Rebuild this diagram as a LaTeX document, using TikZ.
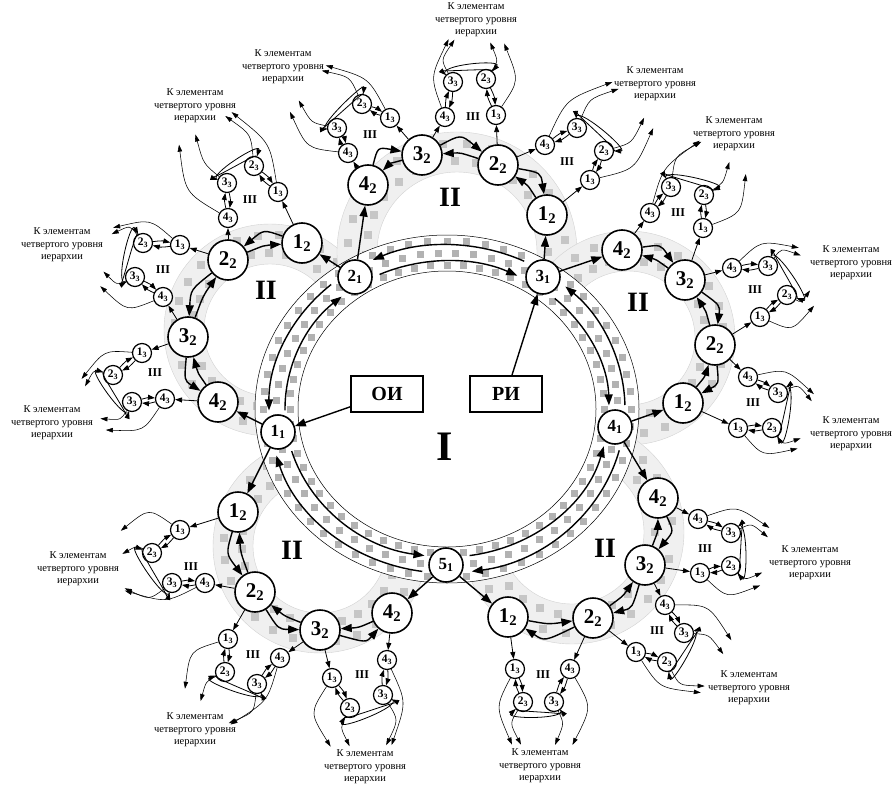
\documentclass[tikz,border=0pt]{standalone}
\usepackage{fontspec}
\setmainfont{Liberation Serif}
\usetikzlibrary{calc,arrows.meta}
\newcommand\nd[2]{#1\textsubscript{#2}}
% elliptic ring arc: start, end, x radius, y radius
\newcommand\rarc[4]{\draw[aone] ($(C0)+({#3*cos(#1)},{#4*sin(#1)})$) arc[start angle=#1, end angle=#2, x radius=#3pt, y radius=#4pt];}
\newcommand\petal[2]{%
  \pgfmathsetmacro\po{#2+20}\pgfmathsetmacro\pin{#2-20}%
  \fill[bandfill, even odd rule] (#1) circle[radius=\po pt] (#1) circle[radius=\pin pt];
  \draw[bandline] (#1) circle[radius=\po pt] (#1) circle[radius=\pin pt];
  \foreach \a in {0,13,...,350}{
    \pgfmathsetmacro\ra{#2-9}\pgfmathsetmacro\rb{#2+9}\pgfmathsetmacro\b{\a+6.5}
    \fill[psq] ($(#1)+(\a:\ra pt)$) ++(-4pt,-4pt) rectangle ++(8pt,8pt);
    \fill[psq] ($(#1)+(\b:\rb pt)$) ++(-4pt,-4pt) rectangle ++(8pt,8pt);
  }
}
\newcommand\dbl[3]{%
  \coordinate (dm) at ($(#1)!0.5!(#2)$);
  \draw[aone] (#1) .. controls ($(#3)!1.28!(dm)$) .. (#2);
  \draw[aone] (#2) .. controls ($(#3)!1.08!(dm)$) .. (#1);
}
\newcommand\clust[8]{%
  \node[lthree] (#11) at #2 {\nd{1}{3}};
  \node[lthree] (#12) at #3 {\nd{2}{3}};
  \node[lthree] (#13) at #4 {\nd{3}{3}};
  \node[lthree] (#14) at #5 {\nd{4}{3}};
  \node[romanthree] (#1r) at #8 {III};
  \coordinate (#1C) at ($0.25*(#11)+0.25*(#12)+0.25*(#13)+0.25*(#14)$);
  \draw[athree] (#6) -- (#11);
  \draw[athree] (#7) -- (#14);
  \draw[athree] (#11) to[bend left=11] (#12);
  \draw[athree] (#12) to[bend left=11] (#11);
  \draw[athree] (#13) to[bend left=11] (#14);
  \draw[athree] (#14) to[bend left=11] (#13);
  \draw[athree] (#12) .. controls ($(#12)!-0.6!(#1C)$) and ($(#13)!-0.6!(#1C)$) .. (#13);
  \draw[athree] (#13) .. controls ($(#13)!-1.05!(#1C)$) and ($(#12)!-1.05!(#1C)$) .. (#12);
}
\newcommand\tolab[2]{%
  \node[lbl] (#1L) at #2 {К элементам\\четвертого уровня\\иерархии};
  \path (#1C) -- (#1L) coordinate[pos=1] (#1B);
  \coordinate (#1G) at ($(#1B)!3pt!(#1C)$);
  \foreach \k in {1,2,3,4}{
    \coordinate (#1F\k) at ($(#1L)!(#1\k)!(#1C)$);
    \coordinate (#1T\k) at ($(#1G)+1.1*(#1\k)-1.1*(#1F\k)$);
    \coordinate (#1K\k) at ($(#1\k)!0.5!(#1T\k)+0.7*(#1\k)-0.7*(#1F\k)$);
    \draw[afour] (#1\k) .. controls (#1K\k) .. (#1T\k);
  }
}
\begin{document}
\begin{tikzpicture}[x=1pt,y=1pt,
  lone/.style={circle, draw, line width=1.6pt, fill=white, minimum size=34pt, inner sep=0pt, font=\fontsize{17}{17}\selectfont\bfseries},
  ltwo/.style={circle, draw, line width=1.6pt, fill=white, minimum size=40pt, inner sep=0pt, font=\fontsize{21}{21}\selectfont\bfseries},
  lthree/.style={circle, draw, line width=1.2pt, fill=white, minimum size=19pt, inner sep=0pt, font=\fontsize{11.5}{11.5}\selectfont\bfseries},
  romanthree/.style={font=\fontsize{12}{12}\selectfont\bfseries},
  romantwo/.style={font=\fontsize{28}{28}\selectfont\bfseries},
  boxnode/.style={draw, line width=1.5pt, fill=white, minimum width=72pt, minimum height=36pt, font=\fontsize{20}{20}\selectfont\bfseries},
  aone/.style={line width=1.4pt, -{Triangle[length=11pt,width=8pt]}},
  athree/.style={line width=0.8pt, -{Triangle[length=7pt,width=5pt]}},
  afour/.style={line width=0.55pt, -{Triangle[length=7pt,width=4.5pt]}},
  lbl/.style={align=center, font=\fontsize{10.5}{12.5}\selectfont, inner sep=1pt},
  bandfill/.style={fill=gray!12},
  bandline/.style={draw=gray!35, line width=0.4pt},
  psq/.style={fill=gray!45},
  rsq/.style={fill=gray!60}]
\useasboundingbox (0,0) rectangle (896,-789);
\coordinate (C0) at (447,-409);
\coordinate (pUL) at (270,-330);
\coordinate (pT) at (457,-252);
\coordinate (pR) at (628,-338);
\coordinate (pLR) at (572,-532);
\coordinate (pLL) at (320,-546);
\petal{pUL}{86}
\petal{pT}{100}
\petal{pR}{87}
\petal{pLR}{92}
\petal{pLL}{87}
% ring I (ellipse band)
\fill[white] (C0) ellipse[x radius=192pt, y radius=174pt];
\draw[line width=0.5pt] (C0) ellipse[x radius=192pt, y radius=174pt];
\draw[line width=0.5pt] (C0) ellipse[x radius=149pt, y radius=138pt];
\foreach \a in {0,6,...,355}{
  \pgfmathsetmacro\b{\a+3}
  \fill[rsq] ($(C0)+({157*cos(\a)},{144*sin(\a)})$) ++(-3.5pt,-3.5pt) rectangle ++(7pt,7pt);
  \fill[rsq] ($(C0)+({170.5*cos(\b)},{156*sin(\b)})$) ++(-3.5pt,-3.5pt) rectangle ++(7pt,7pt);
  \fill[rsq] ($(C0)+({184*cos(\a)},{168*sin(\a)})$) ++(-3.5pt,-3.5pt) rectangle ++(7pt,7pt);
}
\node[font=\fontsize{42}{42}\selectfont\bfseries] (bigI) at (445,-447) {I};
\node[romantwo] (iiUL) at (266,-290) {II};
\node[romantwo] (iiT) at (450,-197) {II};
\node[romantwo] (iiR) at (638,-302) {II};
\node[romantwo] (iiLR) at (605,-548) {II};
\node[romantwo] (iiLL) at (292,-550) {II};
% ring arcs (inner x162/y148, outer x178/y164)
\rarc{180.5}{130.6}{162}{148} \rarc{130.6}{180.5}{178}{164}
\rarc{114.6}{64.3}{162}{148} \rarc{64.3}{114.6}{178}{164}
\rarc{48.3}{1.4}{162}{148} \rarc{1.4}{48.3}{178}{164}
\rarc{-82}{-14.6}{162}{148} \rarc{-14.6}{-82}{178}{164}
\rarc{196.5}{262}{162}{148} \rarc{262}{196.5}{178}{164}
% level 1
\node[lone] (n11) at (278,-432) {\nd{1}{1}};
\node[lone] (n21) at (355,-277) {\nd{2}{1}};
\node[lone] (n31) at (543,-277) {\nd{3}{1}};
\node[lone] (n41) at (615,-427) {\nd{4}{1}};
\node[lone] (n51) at (446,-565) {\nd{5}{1}};
\node[boxnode] (oi) at (387,-394) {ОИ};
\node[boxnode] (ri) at (506,-394) {РИ};
\draw[aone] (oi) -- (n11);
\draw[aone] (ri) -- (n31);
% level 2
\node[ltwo] (ul1) at (302,-243) {\nd{1}{2}};
\node[ltwo] (ul2) at (228,-260) {\nd{2}{2}};
\node[ltwo] (ul3) at (188,-337) {\nd{3}{2}};
\node[ltwo] (ul4) at (218,-402) {\nd{4}{2}};
\node[ltwo] (t4) at (368,-185) {\nd{4}{2}};
\node[ltwo] (t3) at (422,-155) {\nd{3}{2}};
\node[ltwo] (t2) at (498,-165) {\nd{2}{2}};
\node[ltwo] (t1) at (547,-215) {\nd{1}{2}};
\node[ltwo] (r4) at (622,-250) {\nd{4}{2}};
\node[ltwo] (r3) at (685,-280) {\nd{3}{2}};
\node[ltwo] (r2) at (715,-345) {\nd{2}{2}};
\node[ltwo] (r1) at (683,-403) {\nd{1}{2}};
\node[ltwo] (lr4) at (658,-498) {\nd{4}{2}};
\node[ltwo] (lr3) at (645,-565) {\nd{3}{2}};
\node[ltwo] (lr2) at (593,-618) {\nd{2}{2}};
\node[ltwo] (lr1) at (508,-617) {\nd{1}{2}};
\node[ltwo] (ll1) at (238,-512) {\nd{1}{2}};
\node[ltwo] (ll2) at (255,-592) {\nd{2}{2}};
\node[ltwo] (ll3) at (320,-630) {\nd{3}{2}};
\node[ltwo] (ll4) at (392,-613) {\nd{4}{2}};
% ring I -> petals
\draw[aone] (n11) -- (ul4); \draw[aone] (n11) -- (ll1);
\draw[aone] (n21) -- (ul1); \draw[aone] (n21) -- (t4);
\draw[aone] (n31) -- (t1); \draw[aone] (n31) -- (r4);
\draw[aone] (n41) -- (r1); \draw[aone] (n41) -- (lr4);
\draw[aone] (n51) -- (lr1); \draw[aone] (n51) -- (ll4);
% petal chains
\dbl{ul1}{ul2}{pUL} \dbl{ul2}{ul3}{pUL} \dbl{ul3}{ul4}{pUL}
\dbl{t4}{t3}{pT} \dbl{t3}{t2}{pT} \dbl{t2}{t1}{pT}
\dbl{r4}{r3}{pR} \dbl{r3}{r2}{pR} \dbl{r2}{r1}{pR}
\dbl{lr4}{lr3}{pLR} \dbl{lr3}{lr2}{pLR} \dbl{lr2}{lr1}{pLR}
\dbl{ll1}{ll2}{pLL} \dbl{ll2}{ll3}{pLL} \dbl{ll3}{ll4}{pLL}
% clusters
\clust{ta}{(390,-118)}{(362,-104)}{(337,-128)}{(348,-153)}{t3}{t4}{(370,-135)}
\tolab{ta}{(283,-67)}
\clust{tb}{(496,-115)}{(486,-79)}{(453,-82)}{(445,-117)}{t2}{t3}{(473,-117)}
\tolab{tb}{(476,-20)}
\clust{tc}{(590,-180)}{(604,-151)}{(577,-128)}{(545,-145)}{t1}{t2}{(567,-162)}
\tolab{tc}{(655,-84)}
\clust{ra}{(703,-228)}{(704,-195)}{(671,-187)}{(650,-213)}{r3}{r4}{(678,-213)}
\tolab{ra}{(734,-134)}
\clust{rb}{(760,-317)}{(787,-295)}{(768,-266)}{(732,-268)}{r2}{r3}{(755,-290)}
\tolab{rb}{(851,-263)}
\clust{rc}{(738,-428)}{(772,-428)}{(778,-393)}{(748,-377)}{r1}{r2}{(753,-403)}
\tolab{rc}{(851,-434)}
\clust{sa}{(700,-573)}{(731,-566)}{(731,-533)}{(698,-519)}{lr3}{lr4}{(705,-549)}
\tolab{sa}{(810,-563)}
\clust{sb}{(636,-652)}{(667,-662)}{(684,-633)}{(665,-605)}{lr2}{lr3}{(657,-631)}
\tolab{sb}{(749,-688)}
\clust{sc}{(515,-669)}{(523,-702)}{(554,-702)}{(570,-669)}{lr1}{lr2}{(543,-675)}
\tolab{sc}{(540,-766)}
\clust{la}{(332,-678)}{(350,-708)}{(383,-695)}{(387,-660)}{ll3}{ll4}{(362,-675)}
\tolab{la}{(365,-767)}
\clust{lb}{(228,-639)}{(225,-672)}{(257,-684)}{(280,-658)}{ll2}{ll3}{(253,-655)}
\tolab{lb}{(195,-730)}
\clust{lc}{(180,-530)}{(152,-553)}{(172,-583)}{(205,-583)}{ll1}{ll2}{(191,-567)}
\tolab{lc}{(78,-569)}
\clust{ua}{(142,-353)}{(113,-375)}{(132,-402)}{(165,-399)}{ul3}{ul4}{(155,-373)}
\tolab{ua}{(52,-423)}
\clust{ub}{(180,-245)}{(143,-243)}{(135,-277)}{(163,-297)}{ul2}{ul3}{(163,-270)}
\tolab{ub}{(62,-245)}
\clust{uc}{(278,-192)}{(254,-166)}{(227,-183)}{(228,-218)}{ul1}{ul2}{(250,-200)}
\tolab{uc}{(195,-106)}
\end{tikzpicture}
\end{document}
